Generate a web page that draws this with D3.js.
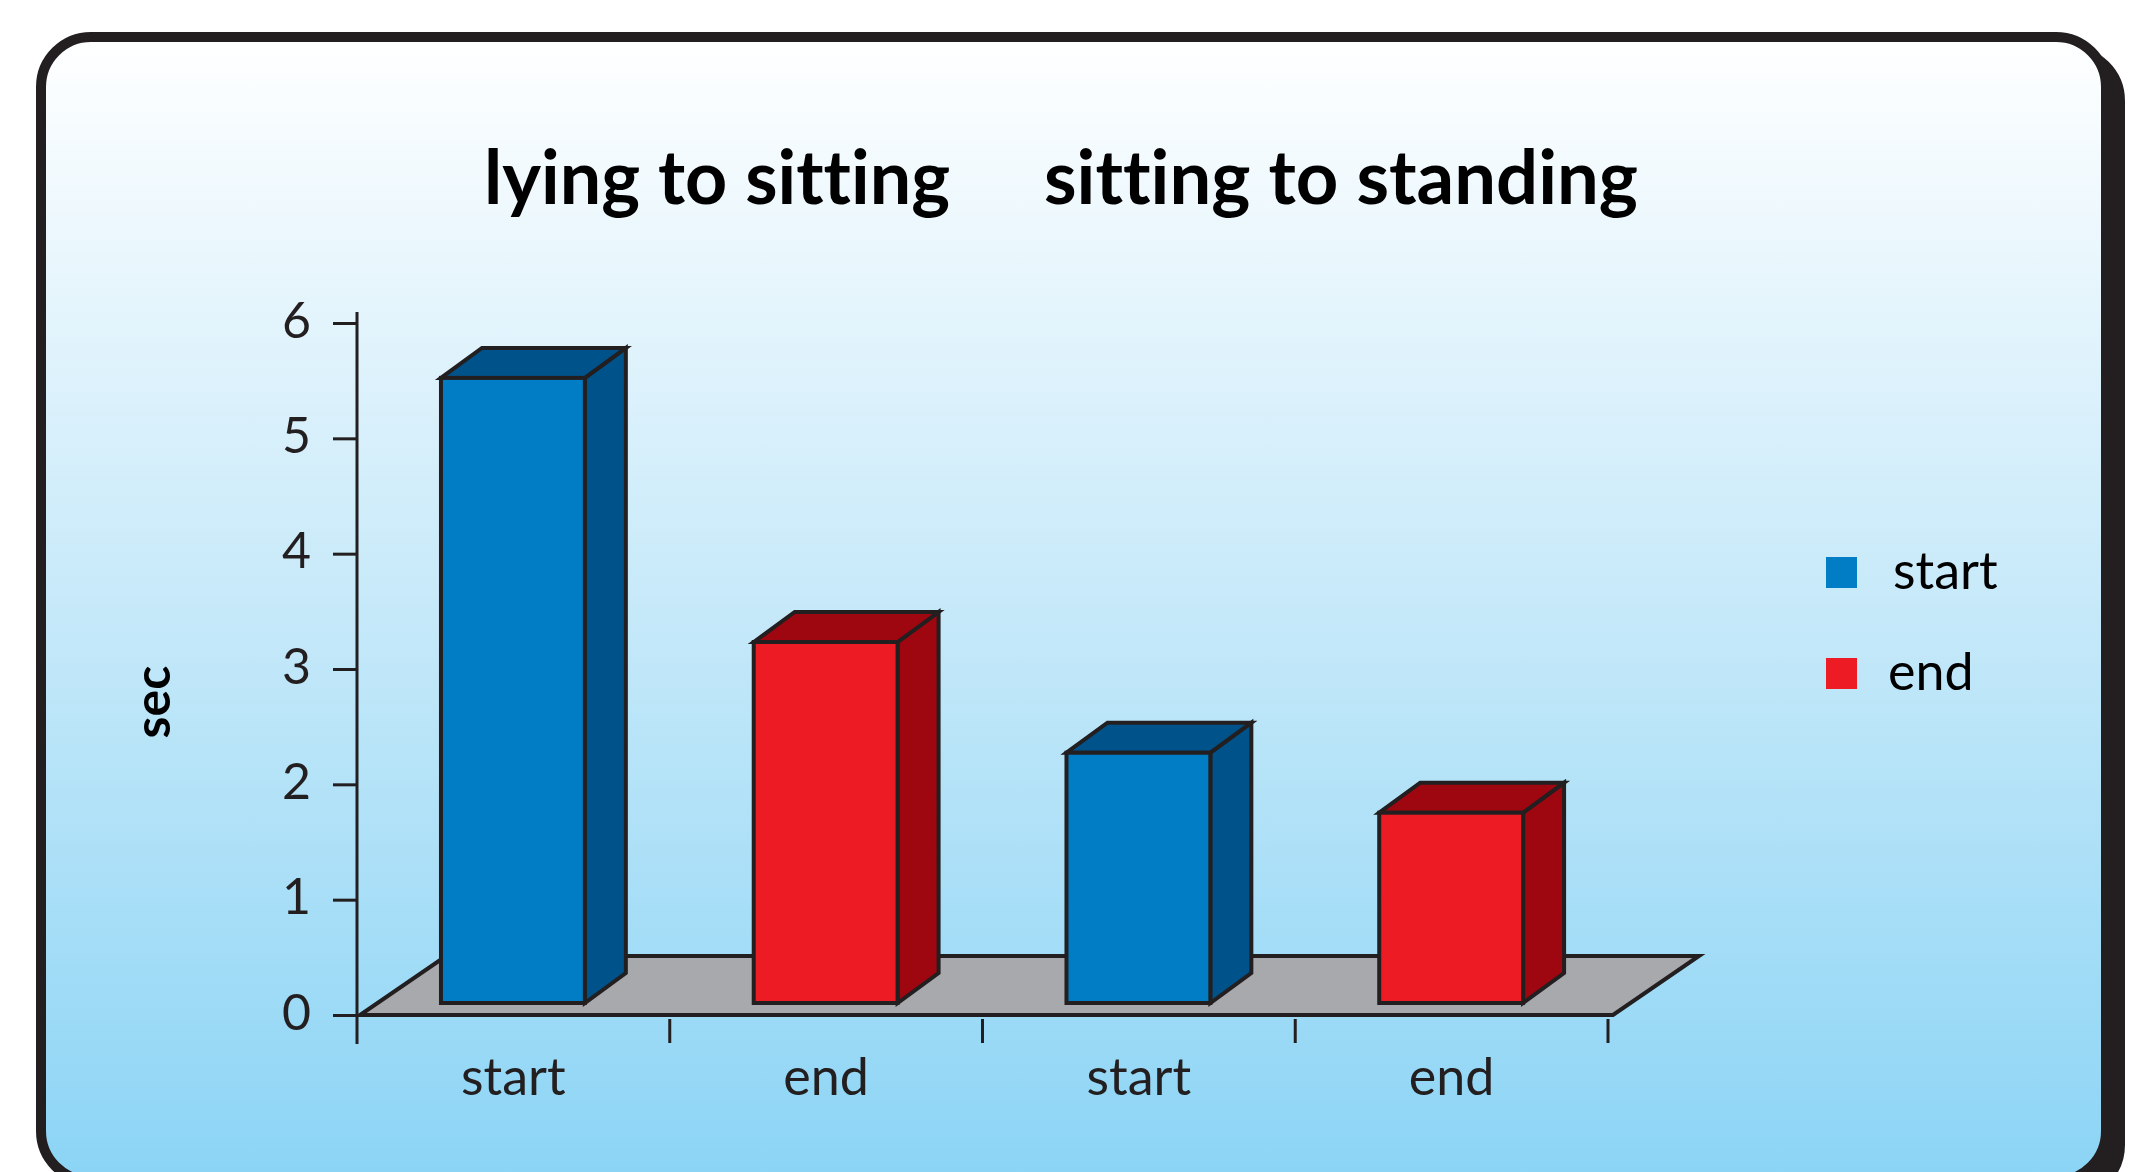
<!DOCTYPE html>
<html><head><meta charset="utf-8">
<script src="https://cdn.jsdelivr.net/npm/d3@7"></script>
<style>html,body{margin:0;padding:0;background:#fff;overflow:hidden} text{font-variant-ligatures:none;font-feature-settings:"liga" 0,"clig" 0}</style>
</head><body>
<svg id="chart" width="2137" height="1172"></svg>
<script>
const categories = ["start", "end", "start", "end"];
const groups = ["lying to sitting", "sitting to standing"];
const series = ["start", "end", "start", "end"];
const values = [5.42, 3.13, 2.17, 1.65];
const yTicks = [0, 1, 2, 3, 4, 5, 6];
const legendItems = ["start", "end"];

const colors = {start: {front: "#007dc5", dark: "#00538a"}, end: {front: "#ed1c24", dark: "#9e0710"}};
const ink = "#231f20";
const FONT = "Lato, 'Open Sans', sans-serif";

const svg = d3.select("#chart");
const defs = svg.append("defs");
const grad = defs.append("linearGradient").attr("id", "bg").attr("x1", 0).attr("y1", 0).attr("x2", 0).attr("y2", 1);
grad.append("stop").attr("offset", "0%").attr("stop-color", "#ffffff");
grad.append("stop").attr("offset", "50%").attr("stop-color", "#c6e9f9");
grad.append("stop").attr("offset", "100%").attr("stop-color", "#8bd4f5");

// frame with shadow
svg.append("rect").attr("x", 55).attr("y", 51).attr("width", 2065).attr("height", 1144).attr("rx", 50)
  .attr("fill", ink).attr("stroke", ink).attr("stroke-width", 10);
svg.append("rect").attr("x", 41).attr("y", 37).attr("width", 2065).attr("height", 1144).attr("rx", 50)
  .attr("fill", "url(#bg)").attr("stroke", ink).attr("stroke-width", 10);

// scales
const x = d3.scaleBand().domain(d3.range(categories.length)).range([357, 1608]).padding(0);
const y = d3.scaleLinear().domain([0, 6]).range([1015, 323]);
const bw = x.bandwidth();

// floor
const fdx = 86, fdy = -59;
const y0 = y(0);
const floorPts = [[x.range()[0] + 3, y0], [x.range()[1] + 5, y0], [x.range()[1] + 5 + fdx, y0 + fdy], [x.range()[0] + 3 + fdx, y0 + fdy]];
svg.append("polygon").attr("points", floorPts.map(p => p.join(",")).join(" "))
  .attr("fill", "#a7a9ac").attr("stroke", ink).attr("stroke-width", 4).attr("stroke-linejoin", "miter");

// bars
const bdx = 41, bdy = -30, inset = 12;
const barW = bw * 0.46, barOff = bw * 0.2685;
const bars = svg.append("g");
values.forEach((v, i) => {
  const c = colors[series[i]];
  const x0 = x(i) + barOff, x1 = x0 + barW;
  const yb = y(0) - inset, yt = y(v) - inset;
  const g = bars.append("g").attr("stroke", ink).attr("stroke-width", 4).attr("stroke-linejoin", "miter");
  g.append("polygon").attr("points", [[x1, yt], [x1 + bdx, yt + bdy], [x1 + bdx, yb + bdy], [x1, yb]].map(p => p.join(",")).join(" ")).attr("fill", c.dark);
  g.append("polygon").attr("points", [[x0, yt], [x0 + bdx, yt + bdy], [x1 + bdx, yt + bdy], [x1, yt]].map(p => p.join(",")).join(" ")).attr("fill", c.dark);
  g.append("rect").attr("x", x0).attr("y", yt).attr("width", barW).attr("height", yb - yt).attr("fill", c.front);
});

// y axis
const yAxis = d3.axisLeft(y).tickValues(yTicks).tickSize(24).tickSizeOuter(0).tickPadding(22).tickFormat(d3.format("d"));
const ya = svg.append("g").attr("transform", `translate(${x.range()[0]},0)`).call(yAxis);
ya.select(".domain").remove();
ya.selectAll(".tick line").attr("stroke", ink).attr("stroke-width", 3);
ya.selectAll(".tick text").attr("fill", ink).attr("font-family", FONT).attr("font-size", 50).attr("dy", "0.28em");
svg.append("line").attr("x1", x.range()[0]).attr("x2", x.range()[0]).attr("y1", y(6) - 11).attr("y2", y(0) + 29)
  .attr("stroke", ink).attr("stroke-width", 3);

// x ticks at band boundaries
const bounds = d3.range(categories.length).map(i => x(i)).concat([x.range()[1]]);
svg.append("g").selectAll("line").data(bounds.slice(1)).join("line")
  .attr("x1", d => d).attr("x2", d => d).attr("y1", y(0) + 4).attr("y2", y(0) + 28)
  .attr("stroke", ink).attr("stroke-width", 3);
svg.append("g").selectAll("text").data(categories).join("text")
  .attr("x", (d, i) => x(i) + bw / 2).attr("y", 1095).attr("text-anchor", "middle")
  .attr("font-family", FONT).attr("font-size", 52).attr("fill", ink).text(d => d);

// titles
const titleX = [484, 1044], titleW = [466, 594];
svg.append("g").selectAll("text").data(groups).join("text")
  .attr("x", (d, i) => titleX[i]).attr("y", 204)
  .attr("textLength", (d, i) => titleW[i]).attr("lengthAdjust", "spacingAndGlyphs")
  .attr("font-family", FONT).attr("font-weight", 700).attr("font-size", 74).attr("fill", "#000").text(d => d);

// y label
svg.append("text").attr("transform", "translate(170,702) rotate(-90)").attr("text-anchor", "middle")
  .attr("font-family", FONT).attr("font-weight", 700).attr("font-size", 50).attr("fill", "#000").text("sec");

// legend
const lg = svg.append("g");
const legendY = [557, 658], legendTX = [1893, 1888];
legendItems.forEach((s, i) => {
  lg.append("rect").attr("x", 1826).attr("y", legendY[i]).attr("width", 31).attr("height", 31).attr("fill", colors[s].front);
  lg.append("text").attr("x", legendTX[i]).attr("y", legendY[i] + 32).attr("font-family", FONT).attr("font-size", 52).attr("fill", "#000").text(s);
});
</script>
</body></html>
